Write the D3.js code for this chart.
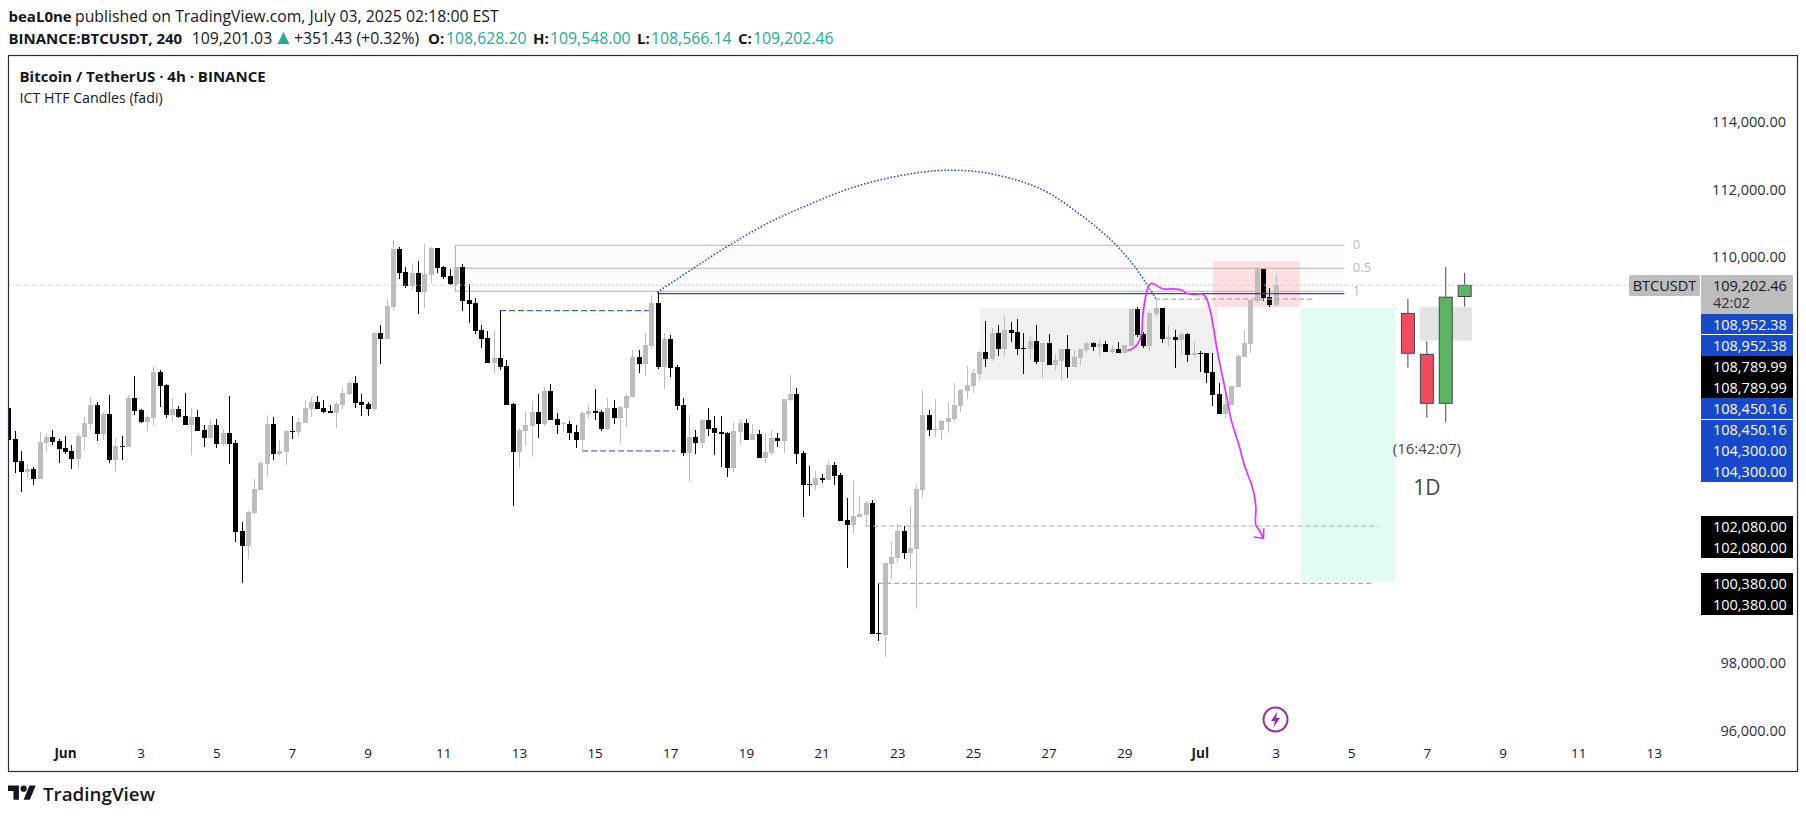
<!DOCTYPE html>
<html>
<head>
<meta charset="utf-8">
<script src="https://cdn.jsdelivr.net/npm/d3@7"></script>
<style>
html,body{margin:0;padding:0;background:#fff;}
svg{display:block;}
text{font-family:"Open Sans",sans-serif;}
</style>
</head>
<body>
<svg id="chart" width="1806" height="818"></svg>
<script>
// 4h candles, first one is 30 May 12:00
const candleOpen = [105560,104660,104000,103680,103770,103470,104540,104710,104600,104390,104300,104060,104710,105100,105660,104800,105390,104030,104440,104420,105870,105510,105160,105280,106640,106250,105370,105540,105340,105070,105310,104920,104680,105070,104510,104830,104540,101930,101490,102470,103150,103920,105100,104210,104270,104890,104860,105130,105540,105750,105570,105480,105420,105660,105990,106310,105750,105690,105540,107790,107610,108560,110280,109600,109180,109570,109000,109510,110310,109740,109480,109240,109740,108770,108680,107880,107640,106900,107050,106810,105690,104270,104890,105040,105450,105100,106080,105250,105100,105100,104860,104630,105390,105480,105450,104950,105570,105280,105570,105900,107080,106870,107410,108680,106790,107610,106790,105660,104240,104710,104540,105220,104980,104860,104830,103800,104860,105130,104630,104800,104090,104240,104680,104600,105810,105990,104240,103320,103290,103500,103440,103890,103590,102260,102110,102350,102410,102760,98920,98860,100960,101130,101930,101280,101400,103150,105370,104920,104920,105160,105250,105630,106080,106220,106580,107230,107020,107790,107320,107880,107820,107350,107320,107550,106930,107500,106840,106960,107320,106790,107050,107290,107500,107380,107470,107230,107320,107200,107410,108500,107760,107410,108350,108530,107610,107670,107580,107760,107140,107200,107200,106640,105990,105390,105660,106190,107080,107470,108740,109680,108860,108628.20];
const candleHigh = [105600,104890,104300,103920,103820,104860,104800,104920,104660,104740,104480,104830,105310,105900,105750,105450,105960,104680,104740,105960,106520,105540,105370,106810,106700,106280,105870,105630,106020,105570,105510,105070,105250,105250,104950,105930,104630,102200,102520,103470,104000,105370,105310,104630,104920,105340,105280,105810,105900,105930,105810,105660,105750,106160,106370,106520,105990,105750,107820,108030,108800,110540,110340,109740,109860,109920,110420,110340,110310,109770,109680,109740,109830,109240,108830,108030,107850,107850,108470,106990,105720,104980,105450,105780,105990,106190,106280,105420,105160,105190,105070,105480,105690,106130,105510,105870,105810,105630,105990,107290,107290,107790,108920,109000,107790,107730,106840,105870,105370,104920,105250,105570,105340,105340,104860,105160,105250,105250,105100,104920,104830,104920,104830,105840,106550,106160,104300,103860,103710,103620,104000,103970,103650,102910,103410,102970,102820,102850,100390,100990,101640,102140,102080,102640,103320,106100,105510,105840,105220,105750,106310,106130,106810,106730,107260,108150,107940,108030,108290,108120,108210,107790,107700,108030,107500,107760,107170,107320,107730,107290,107320,107520,107520,107580,107550,107440,107520,107440,108500,108560,107820,108440,108800,108530,108000,107880,107820,107790,107550,107260,107200,107200,106310,106100,106220,107170,107880,108770,109740,109680,109120,109548.00];
const candleLow = [104600,103660,103100,103510,103300,103470,104270,104480,103940,104210,103770,103800,104330,104920,104600,104630,103940,103680,104030,104420,105370,105130,104890,105040,105600,105280,105160,105280,105070,104180,104890,104420,104660,104390,104450,103920,101610,100400,101100,102410,103150,103530,104030,104170,103890,104660,104710,105130,105310,105540,105420,105420,104980,105540,105960,105570,105340,105340,105480,106870,107610,108470,109390,109120,109060,108350,108530,109270,109570,109390,109210,109210,108440,108090,107760,107350,106900,106610,106700,105660,102670,103800,104450,104120,104680,105040,105220,104800,104860,104630,104390,104330,105280,105220,104890,104950,105100,104510,105010,105900,106610,106520,107320,106730,106130,106490,105510,104150,103380,104210,104390,104740,104180,103830,103530,103680,104480,104630,104630,104090,103940,104180,104420,104240,105780,103920,102350,102970,103150,103350,103440,103290,102230,100840,101840,102350,102080,98890,98680,98210,100510,100990,101100,100810,99630,102910,104740,104710,104630,104830,105190,105450,105840,106020,106370,106790,106960,107110,107110,107520,107140,106580,107020,106870,106460,106840,106700,106370,106460,106790,106840,107200,107260,107110,107230,107170,107200,107200,107410,107670,107350,107260,108260,107500,107410,106760,107140,106930,107050,106640,106310,105630,105390,105280,105660,106190,107080,107200,108680,108740,108560,108566.14];
const candleClose = [104630,103970,103680,103770,103470,104570,104710,104570,104360,104270,104060,104740,105130,105660,104800,105390,104030,104450,104420,105870,105480,105160,105310,106640,106220,105370,105540,105310,105070,105310,104890,104680,105070,104510,104830,104510,101900,101490,102500,103180,103940,105100,104210,104300,104890,104860,105160,105570,105750,105540,105450,105420,105690,106020,106310,105720,105660,105540,107790,107610,108590,110280,109570,109180,109570,109000,109540,110310,109710,109450,109240,109740,108740,108650,107850,107610,106900,107050,106790,105660,104270,104920,105070,105450,105100,106080,105220,105070,105130,104830,104630,105420,105480,105420,104950,105570,105280,105600,105930,107080,106870,107440,108680,106790,107610,106760,105630,104240,104710,104540,105220,104950,104830,104800,103800,104890,105130,104630,104800,104090,104270,104680,104600,105840,105990,104210,103290,103290,103500,103440,103890,103560,102230,102110,102380,102440,102760,98890,98890,100990,101160,101930,101280,101430,103180,105370,104920,104950,105190,105280,105660,106100,106250,106610,107230,107020,107790,107320,107880,107790,107320,107320,107550,106930,107500,106840,106990,107320,106790,107080,107320,107500,107380,107470,107230,107320,107200,107440,108500,107730,107410,108380,108530,107610,107670,107580,107760,107140,107200,107180,106610,105960,105390,105690,106220,107110,107500,108770,109700,108840,108620,109202.46];

// daily candles of the indicator, drawn out in the empty space on the right
const htfDay = [35.5,36,36.5,37];
const htfOpen = [108370,107160,105710,108870];
const htfHigh = [108800,107550,109740,109570];
const htfLow = [106770,105290,105150,108570];
const htfClose = [107190,105710,108850,109200];

// axes
const dayTicks = [0,2,4,6,8,10,12,14,16,18,20,22,24,26,28,30,32,34,36,38,40,42];
const dayLabels = ["Jun","3","5","7","9","11","13","15","17","19","21","23","25","27","29","Jul","3","5","7","9","11","13"];
const priceTicks = [114000,112000,110000,98000,96000];

// drawings, x in days after 1 June, y in price
const fibLevels = [0,0.5,1];
const fibPrices = [110386,109705,109025];
const arcDays = [15.65,16.57,17.57,18.66,19.75,20.84,21.94,22.94,23.57,24.30,25.21,25.94,26.67,27.30,27.81,28.31,28.83];
const arcPrices = [108995,109675,110394,111084,111628,112101,112415,112584,112604,112533,112297,111971,111430,110888,110365,109705,108817];
const penDays = [28.08,28.24,28.37,28.46,28.49,28.55,28.64,28.73,28.86,29.03,29.30,29.52,29.65,29.83,30.05,30.15,30.27,30.37,30.44,30.58,30.71,30.84,31.02,31.19,31.41,31.48,31.48,31.57,31.68];
const penPrices = [107268,107337,107485,107781,108274,108767,109162,109260,109191,109093,109093,109063,108964,108935,108945,108866,108471,107880,107387,106598,105907,105168,104527,103836,103146,102653,102111,101962,101716];
const arrowDays = [31.43,31.68,31.69];
const arrowPrices = [101755,101716,102012];

const lastPrice = 109202.46;
const blueLevels = [108952.38,108450.16,104300];
const grayLevels = [108789.99,102080,100380];
const scaleLabels = [108952.38,108952.38,108789.99,108789.99,108450.16,108450.16,104300,104300];
const scaleLabelColors = ["#1848cc","#1848cc","#000","#000","#1848cc","#1848cc","#1848cc","#1848cc"];

const svg = d3.select("#chart");
const x = d3.scaleLinear().domain([0,42]).range([65,1653.8]);
const y = d3.scaleLinear().domain([96000,114000]).range([731.5,123.1]);
const plotLeft = 8, plotRight = 1797, plotTop = 55, plotBottom = 771;

svg.append("defs").append("clipPath").attr("id","plot")
	.append("rect").attr("x",plotLeft).attr("y",plotTop).attr("width",plotRight-plotLeft).attr("height",plotBottom-plotTop);

// zones behind the candles
function zone(d0,d1,p0,p1,fill){
	svg.append("rect")
		.attr("x",x(d0)).attr("width",x(d1)-x(d0))
		.attr("y",y(p0)).attr("height",y(p1)-y(p0))
		.attr("fill",fill);
}
zone(10.32,33.82,fibPrices[0],fibPrices[2],"#fbfbfb");
zone(24.19,30.48,108531,106401,"#f0f0f0");
zone(30.35,32.65,109921,108560,"#fddfe0");
zone(32.67,35.16,108531,100433,"#e0fdf0");
zone(35.81,37.19,108560,107564,"#e2e3e5");

// fib
svg.selectAll(".fib").data(fibPrices).enter().append("line")
	.attr("x1",x(10.32)).attr("x2",x(33.82))
	.attr("y1",d=>y(d)).attr("y2",d=>y(d))
	.attr("stroke","#b5b5b5").attr("stroke-width",1.2);
svg.append("line").attr("x1",x(10.32)).attr("x2",x(10.32)).attr("y1",y(fibPrices[0])).attr("y2",y(fibPrices[2]))
	.attr("stroke","#b5b5b5").attr("stroke-width",1.2);
svg.selectAll(".fiblabel").data(fibLevels).enter().append("text")
	.attr("x",x(33.82)+8.5).attr("y",(d,i)=>y(fibPrices[i])+4)
	.attr("font-size",13).attr("fill","#b9b9b9").text(d=>d);

// candles
const candles = svg.append("g").attr("clip-path","url(#plot)").attr("shape-rendering","crispEdges");
const barDay = i => -1.5 + i/6;
const barColor = i => candleClose[i] >= candleOpen[i] ? "#bdbdbd" : "#000";
candles.selectAll(".wick").data(candleOpen).enter().append("rect")
	.attr("x",(d,i)=>Math.round(x(barDay(i)))).attr("width",1)
	.attr("y",(d,i)=>y(candleHigh[i]))
	.attr("height",(d,i)=>y(candleLow[i])-y(candleHigh[i]))
	.attr("fill",(d,i)=>barColor(i));
candles.selectAll(".body").data(candleOpen).enter().append("rect")
	.attr("x",(d,i)=>Math.round(x(barDay(i)))-2).attr("width",5)
	.attr("y",(d,i)=>y(Math.max(d,candleClose[i])))
	.attr("height",(d,i)=>Math.max(1,Math.abs(y(d)-y(candleClose[i]))))
	.attr("fill",(d,i)=>barColor(i));

// daily candles
const htf = svg.append("g");
htf.selectAll(".hwick").data(htfDay).enter().append("line")
	.attr("x1",d=>x(d)).attr("x2",d=>x(d))
	.attr("y1",(d,i)=>y(htfHigh[i])).attr("y2",(d,i)=>y(htfLow[i]))
	.attr("stroke","#434651").attr("stroke-width",1);
htf.selectAll(".hbody").data(htfDay).enter().append("rect")
	.attr("x",d=>x(d)-6.5).attr("width",13)
	.attr("y",(d,i)=>y(Math.max(htfOpen[i],htfClose[i])))
	.attr("height",(d,i)=>Math.abs(y(htfOpen[i])-y(htfClose[i])))
	.attr("fill",(d,i)=>htfClose[i]>htfOpen[i]?"#5cb561":"#f34b5b")
	.attr("stroke","#434651").attr("stroke-width",1);

// level lines
function level(p,d0,d1,color,dash,w){
	svg.append("line")
		.attr("x1",x(d0)).attr("x2",x(d1)).attr("y1",y(p)).attr("y2",y(p))
		.attr("stroke",color).attr("stroke-width",w||1).attr("stroke-dasharray",dash||null);
}
level(blueLevels[0],15.66,33.82,"#1848cc",null,1.2);
level(blueLevels[1],11.5,15.44,"#1848cc","6 3");
level(blueLevels[2],13.67,16.13,"#1848cc","6 3");
level(grayLevels[0],28.82,33.04,"#aaa","5 3",1.2);
level(grayLevels[1],21.15,34.72,"#aaa","5 3",1.2);
level(grayLevels[2],21.5,34.55,"#aaa","5 3",1.2);

// last price
svg.append("line").attr("x1",plotLeft).attr("x2",1629).attr("y1",y(lastPrice)).attr("y2",y(lastPrice))
	.attr("stroke","#bdbdbd").attr("stroke-width",1).attr("stroke-dasharray","1.5 2.5");

// arc and hand drawn path
const curve = d3.line().x(d=>x(d[0])).y(d=>y(d[1])).curve(d3.curveCatmullRom);
svg.append("path").attr("d",curve(d3.zip(arcDays,arcPrices)))
	.attr("fill","none").attr("stroke","#1f4fd0").attr("stroke-width",1.5).attr("stroke-dasharray","1.6 1.8");
svg.append("path").attr("d",curve(d3.zip(penDays,penPrices)))
	.attr("fill","none").attr("stroke","#e033ff").attr("stroke-width",1.7);
svg.append("path").attr("d",d3.line().x(d=>x(d[0])).y(d=>y(d[1]))(d3.zip(arrowDays,arrowPrices)))
	.attr("fill","none").attr("stroke","#e033ff").attr("stroke-width",1.7);

// time axis
const axisX = svg.append("g").attr("transform","translate(0,746)")
	.call(d3.axisBottom(x).tickValues(dayTicks).tickSize(0).tickFormat((d,i)=>dayLabels[i]));
axisX.select(".domain").remove();
axisX.selectAll("text").attr("font-family",'"Open Sans",sans-serif').attr("font-size",13.5).attr("fill","#131722").attr("dy",".32em").attr("y",8)
	.attr("font-weight",(d,i)=>(dayLabels[i]=="Jun"||dayLabels[i]=="Jul")?700:400);

// price axis
const fmt = d3.format(",.2f");
const axisY = svg.append("g").attr("transform","translate(1786,-1)")
	.call(d3.axisLeft(y).tickValues(priceTicks).tickSize(0).tickFormat(fmt));
axisY.select(".domain").remove();
axisY.selectAll("text").attr("font-family",'"Open Sans",sans-serif').attr("font-size",14.5).attr("fill","#2a2e39").attr("x",0);

// last price tag
const labelLeft = 1701, labelWidth = 92, labelText = 1713;
svg.append("rect").attr("x",1629).attr("y",275).attr("width",71).attr("height",21).attr("rx",2).attr("fill","#bdbdbd");
svg.append("text").attr("x",1664.5).attr("y",290.5).attr("text-anchor","middle").attr("font-size",14.5).attr("fill","#131722").text("BTCUSDT");
svg.append("rect").attr("x",labelLeft).attr("y",275).attr("width",labelWidth).attr("height",39).attr("fill","#bdbdbd");
svg.append("text").attr("x",labelText).attr("y",290.5).attr("font-size",14.5).attr("fill","#131722").text(fmt(lastPrice));
svg.append("text").attr("x",labelText).attr("y",308).attr("font-size",14.5).attr("fill","#2a2e39").text("42:02");

// stacked price tags
function priceTag(p,top,color){
	svg.append("rect").attr("x",labelLeft).attr("y",top).attr("width",labelWidth).attr("height",21).attr("fill",color);
	svg.append("text").attr("x",labelText).attr("y",top+15.5).attr("font-size",14.5).attr("fill","#fff").text(fmt(p));
}
scaleLabels.forEach((p,i)=>priceTag(p,314+i*21,scaleLabelColors[i]));
svg.append("rect").attr("x",labelLeft).attr("y",334).attr("width",labelWidth).attr("height",1).attr("fill","#fff");
svg.append("rect").attr("x",labelLeft).attr("y",419).attr("width",labelWidth).attr("height",1).attr("fill","#fff");
grayLevels.slice(1).forEach(p=>{
	const top = Math.round(y(p))-10;
	priceTag(p,top,"#000");
	priceTag(p,top+21,"#000");
});

// texts on the chart
svg.append("text").attr("x",x(36)).attr("y",453.5).attr("text-anchor","middle").attr("font-size",15).attr("fill","#434651").text("(16:42:07)");
svg.append("text").attr("x",x(36)).attr("y",495).attr("text-anchor","middle").attr("font-size",21).attr("fill","#434651").text("1D");

// flash icon
const flash = svg.append("g").attr("transform","translate("+x(32)+",719.5)");
flash.append("circle").attr("r",12).attr("fill","#fff").attr("stroke","#9c27b0").attr("stroke-width",2);
flash.append("path").attr("d","M2,-8 L-4.5,1.5 L-0.5,1.5 L-2,8 L4.5,-1.5 L0.5,-1.5 Z").attr("fill","#9c27b0");

// frame
svg.append("rect").attr("x",plotLeft+.5).attr("y",plotTop+.5).attr("width",plotRight-plotLeft).attr("height",plotBottom-plotTop)
	.attr("fill","none").attr("stroke","#2a2e39").attr("stroke-width",1.2);

// header
function head(t,px,py,opts){
	opts = opts || {};
	svg.append("text").attr("x",px).attr("y",py).attr("font-size",opts.size||(opts.bold?15:15.8))
		.attr("font-weight",opts.bold?700:400).attr("fill",opts.fill||"#131722").text(t);
}
const teal = "#22ab94";
head("beaL0ne",8.5,22,{bold:true});
head("published on TradingView.com, July 03, 2025 02:18:00 EST",75,22);
head("BINANCE:BTCUSDT, 240",8.5,44,{bold:true});
head("109,201.03",191.7,44);
svg.append("path").attr("d","M277.5,44 L283.5,32 L289.5,44 Z").attr("fill",teal);
head("+351.43 (+0.32%)",294,44);
head("O:",428,44,{bold:true});
head("108,628.20",446,44,{fill:teal});
head("H:",533,44,{bold:true});
head("109,548.00",550,44,{fill:teal});
head("L:",637,44,{bold:true});
head("108,566.14",651,44,{fill:teal});
head("C:",738,44,{bold:true});
head("109,202.46",753,44,{fill:teal});
head("Bitcoin / TetherUS · 4h · BINANCE",19.5,82,{bold:true});
head("ICT HTF Candles (fadi)",19.5,103,{size:14.2});

// logo
const logo = svg.append("g").attr("transform","translate(8,782.5) scale(.78)");
logo.append("path").attr("d","M14 22H7V11H0V4h14v18zM28 22h-8l7.5-18h8L28 22z").attr("fill","#131722");
logo.append("circle").attr("cx",20).attr("cy",8).attr("r",4).attr("fill","#131722");
svg.append("text").attr("x",43).attr("y",801).attr("font-family","Inter").attr("font-size",18.8).attr("font-weight",600).attr("fill","#131722").text("TradingView");
</script>
</body>
</html>
